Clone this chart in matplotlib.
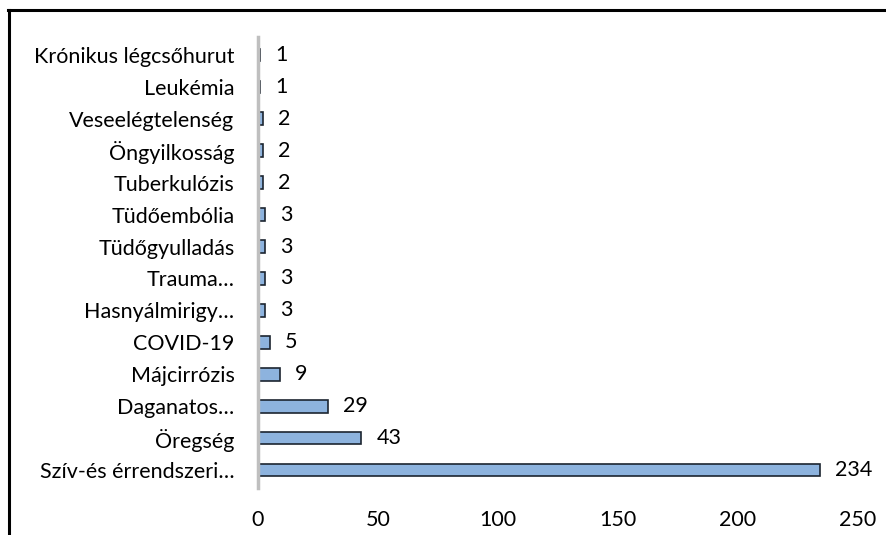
import matplotlib
matplotlib.use("Agg")
import matplotlib.pyplot as plt
from matplotlib.lines import Line2D

categories = ["Szív-és érrendszeri…", "Öregség", "Daganatos…", "Májcirrózis", "COVID-19",
              "Hasnyálmirigy…", "Trauma…", "Tüdőgyulladás", "Tüdőembólia", "Tuberkulózis",
              "Öngyilkosság", "Veseelégtelenség", "Leukémia", "Krónikus légcsőhurut"]
values = [234, 43, 29, 9, 5, 3, 3, 3, 3, 2, 2, 2, 1, 1]
xticks = [0, 50, 100, 150, 200, 250]

plt.rcParams['font.family'] = ['Lato', 'DejaVu Sans']
fs = 15.5

fig = plt.figure(figsize=(8.87, 5.35), dpi=100)
ax = fig.add_axes([258/887, (535-488)/535, 600/887, (488-37)/535])

pos = list(range(len(categories)))
ax.barh(pos, values, height=0.38, color='#8db3de', edgecolor='#1c2530', linewidth=1.2, zorder=2)
for p, v in zip(pos, values):
    ax.annotate(str(v), (v, p), xytext=(11, 0), textcoords='offset points',
                va='center', ha='left', fontsize=fs)

ax.set_xlim(0, 250)
ax.set_ylim(-0.55, len(categories) - 0.45)
ax.set_yticks(pos)
ax.set_yticklabels(categories, fontsize=fs)
ax.set_xticks(xticks)
ax.set_xticklabels([str(t) for t in xticks], fontsize=fs)
ax.tick_params(axis='both', length=0)
ax.tick_params(axis='y', pad=17)
ax.tick_params(axis='x', pad=16)
for s in ['top', 'right', 'bottom']:
    ax.spines[s].set_visible(False)
ax.spines['left'].set_color('#bfbfbf')
ax.spines['left'].set_linewidth(2.5)

# frame around the chart (only top and left visible in the crop)
fig.add_artist(Line2D([8/887, 1], [1 - 10/535, 1 - 10/535], color='black', lw=2.2, transform=fig.transFigure))
fig.add_artist(Line2D([9/887, 9/887], [0, 1 - 10/535], color='black', lw=2.2, transform=fig.transFigure))

fig.savefig("out.png", dpi=100)
